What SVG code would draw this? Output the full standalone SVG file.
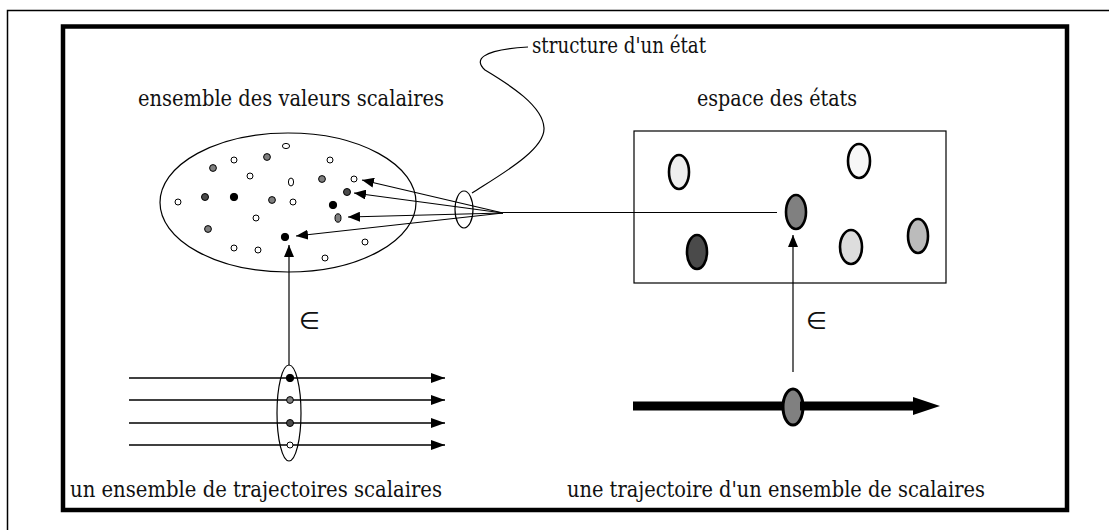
<svg xmlns="http://www.w3.org/2000/svg" width="1109" height="530" viewBox="0 0 1109 530">
<style>
text.t{font-family:'DejaVu Serif',serif;font-size:22px;fill:#111}
text.el{font-family:'DejaVu Sans',sans-serif;font-size:24px;fill:#111}
.ln{stroke:#000;stroke-width:1.2;fill:none}
.tr{stroke:#000;stroke-width:1.6;fill:none}
.dot{stroke:#000;stroke-width:1}
.st{stroke:#000;stroke-width:2.6}
.w{fill:#fff}.g{fill:#7f7f7f}.d{fill:#4a4a4a}.k{fill:#000}
</style>
<defs>
<marker id="ah" viewBox="0 0 12 10" refX="12" refY="5" markerWidth="12" markerHeight="10" markerUnits="userSpaceOnUse" orient="auto"><path d="M0,0 L12,5 L0,10 Z" fill="#000"/></marker>
<marker id="ah2" viewBox="0 0 14 10" refX="14" refY="5" markerWidth="14" markerHeight="10" markerUnits="userSpaceOnUse" orient="auto"><path d="M0,0 L14,5 L0,10 Z" fill="#000"/></marker>
</defs>
<rect x="0" y="0" width="1109" height="530" fill="#fff"/>
<rect x="7.5" y="10.5" width="1120" height="540" fill="none" stroke="#000" stroke-width="1.5"/>
<rect x="63" y="26.5" width="1004" height="483.5" fill="none" stroke="#000" stroke-width="4.5"/>

<g id="scalar-set">
<ellipse cx="288" cy="202.5" rx="128" ry="69.5" class="ln"/>
<ellipse cx="286" cy="146" rx="3.6" ry="2.6" class="dot w"/>
<circle cx="234" cy="160" r="3" class="dot w"/>
<circle cx="267" cy="157" r="3.4" class="dot g"/>
<circle cx="330" cy="160" r="3" class="dot w"/>
<circle cx="213" cy="168" r="3.4" class="dot g"/>
<circle cx="250" cy="176" r="3" class="dot w"/>
<ellipse cx="291" cy="182" rx="2.6" ry="4" class="dot w"/>
<circle cx="322" cy="179" r="3.4" class="dot g"/>
<circle cx="354" cy="179" r="3" class="dot w"/>
<circle cx="347" cy="192" r="3.5" class="dot d"/>
<circle cx="178" cy="202" r="3" class="dot w"/>
<circle cx="205" cy="197" r="3.5" class="dot d"/>
<circle cx="234" cy="197" r="3.7" class="dot k"/>
<circle cx="272" cy="200" r="3.4" class="dot g"/>
<circle cx="293" cy="202" r="3" class="dot w"/>
<circle cx="333" cy="205" r="3.7" class="dot k"/>
<ellipse cx="338" cy="218" rx="3" ry="4.2" class="dot g"/>
<circle cx="256" cy="218" r="3" class="dot w"/>
<circle cx="208" cy="229" r="3.4" class="dot g"/>
<circle cx="285" cy="237" r="3.7" class="dot k"/>
<circle cx="234" cy="248" r="3" class="dot w"/>
<circle cx="258" cy="250" r="3" class="dot w"/>
<circle cx="365" cy="242" r="3" class="dot w"/>
<circle cx="325" cy="258" r="3" class="dot w"/>
</g>

<g id="state-space">
<rect x="634" y="131" width="312" height="152" class="ln"/>
<ellipse cx="679" cy="172" rx="10" ry="17" class="st" fill="#eeeeee"/>
<ellipse cx="859" cy="161" rx="11" ry="17" class="st" fill="#f7f7f7"/>
<ellipse cx="796" cy="212" rx="10" ry="17" class="st" fill="#808080"/>
<ellipse cx="697" cy="252" rx="10" ry="17" class="st" fill="#4a4a4a"/>
<ellipse cx="851" cy="247" rx="11" ry="17" class="st" fill="#dddddd"/>
<ellipse cx="918" cy="236" rx="10" ry="17" class="st" fill="#bbbbbb"/>
</g>

<g id="state-structure">
<ellipse cx="464" cy="209.5" rx="9" ry="18.5" class="ln"/>
</g>

<g id="scalar-trajectories">
<line x1="129" y1="378" x2="290" y2="378" class="tr"/>
<line x1="129" y1="400" x2="290" y2="400" class="tr"/>
<line x1="129" y1="423" x2="290" y2="423" class="tr"/>
<line x1="129" y1="445" x2="290" y2="445" class="tr" stroke="#333"/>
<ellipse cx="289" cy="413" rx="12" ry="48" class="ln" fill="#fff"/>
<line x1="290" y1="378" x2="445" y2="378" class="tr" marker-end="url(#ah2)"/>
<line x1="290" y1="400" x2="445" y2="400" class="tr" marker-end="url(#ah2)"/>
<line x1="290" y1="423" x2="445" y2="423" class="tr" marker-end="url(#ah2)"/>
<line x1="290" y1="445" x2="445" y2="445" class="tr" marker-end="url(#ah2)"/>
<circle cx="290" cy="378" r="3.7" class="dot k"/>
<circle cx="290" cy="400" r="3.4" class="dot g"/>
<circle cx="290" cy="423" r="3.5" class="dot d"/>
<circle cx="290" cy="445" r="3" class="dot w"/>
</g>

<g id="single-trajectory">
<line x1="633" y1="406" x2="795" y2="406" stroke="#000" stroke-width="9"/>
<ellipse cx="793" cy="407" rx="10" ry="18" fill="#808080" stroke="#000" stroke-width="3"/>
<line x1="800" y1="406" x2="914" y2="406" stroke="#000" stroke-width="9"/>
<path d="M913,397 L940,406 L913,415 Z" fill="#000"/>
</g>

<g id="connectors">
<line x1="503" y1="213" x2="362" y2="180" class="ln" marker-end="url(#ah)"/>
<line x1="503" y1="213" x2="354" y2="193" class="ln" marker-end="url(#ah)"/>
<line x1="503" y1="213" x2="348" y2="217" class="ln" marker-end="url(#ah)"/>
<line x1="503" y1="213" x2="296" y2="236" class="ln" marker-end="url(#ah)"/>
<line x1="503" y1="212.5" x2="777" y2="212.5" class="ln"/>
<line x1="289" y1="365" x2="289" y2="245" class="ln" marker-end="url(#ah)"/>
<line x1="793" y1="372" x2="793" y2="235" class="ln" marker-end="url(#ah)"/>
<path d="M472,193 C500,175 545,150 544,128 C543,106 510,85 485,70 C474,60 480,50 528,47" class="ln"/>
</g>

<g id="labels">
<text x="532" y="53" class="t" textLength="174" lengthAdjust="spacingAndGlyphs">structure d'un état</text>
<text x="138" y="106" class="t" textLength="306" lengthAdjust="spacingAndGlyphs">ensemble des valeurs scalaires</text>
<text x="697" y="106" class="t" textLength="160" lengthAdjust="spacingAndGlyphs">espace des états</text>
<text x="70" y="497" class="t" textLength="372" lengthAdjust="spacingAndGlyphs">un ensemble de trajectoires scalaires</text>
<text x="567" y="497" class="t" textLength="418" lengthAdjust="spacingAndGlyphs">une trajectoire d'un ensemble de scalaires</text>
<text x="299" y="329" class="el">∈</text>
<text x="806" y="329" class="el">∈</text>
</g>
</svg>
